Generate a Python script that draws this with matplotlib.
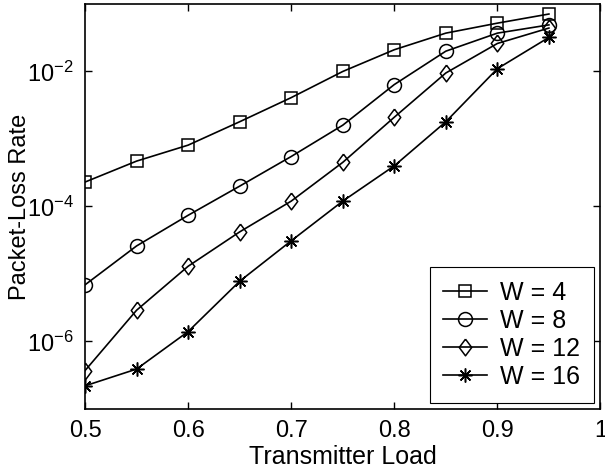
import matplotlib
matplotlib.use("Agg")
import matplotlib.pyplot as plt
import numpy as np
from matplotlib.ticker import NullLocator, FixedLocator

plt.rcParams['font.family'] = ['Liberation Sans', 'DejaVu Sans']
plt.rcParams['mathtext.fontset'] = 'custom'
plt.rcParams['mathtext.rm'] = 'Liberation Sans'

# data
load = [0.5, 0.55, 0.6, 0.65, 0.7, 0.75, 0.8, 0.85, 0.9, 0.95]
w4 = [2.3e-4, 4.7e-4, 8.1e-4, 1.8e-3, 4.1e-3, 1.0e-2, 2.1e-2, 3.7e-2, 5.2e-2, 7.1e-2]
w8 = [6.9e-6, 2.6e-5, 7.4e-5, 2.0e-4, 5.5e-4, 1.6e-3, 6.4e-3, 2.0e-2, 3.7e-2, 4.9e-2]
w12 = [3.7e-7, 2.9e-6, 1.3e-5, 4.2e-5, 1.2e-4, 4.5e-4, 2.1e-3, 9.5e-3, 2.6e-2, 4.4e-2]
w16 = [2.2e-7, 3.9e-7, 1.4e-6, 7.8e-6, 3.1e-5, 1.2e-4, 4.0e-4, 1.8e-3, 1.1e-2, 3.2e-2]
labels = ['W = 4', 'W = 8', 'W = 12', 'W = 16']
xticks = [0.5, 0.6, 0.7, 0.8, 0.9, 1.0]
xticklabels = ['0.5', '0.6', '0.7', '0.8', '0.9', '1']

# MATLAB-style tall diamond
diamond = [(0, 1), (0.75, 0), (0, -1), (-0.75, 0), (0, 1)]

fig = plt.figure(figsize=(6.05, 4.69), dpi=100)
ax = fig.add_axes([0.1405, 0.128, 0.852, 0.8635])

style = dict(color='black', lw=1.2, mfc='none', mew=1.1)
ax.plot(load, w4, marker='s', ms=8, label=labels[0], **style)
ax.plot(load, w8, marker='o', ms=10, label=labels[1], **style)
ax.plot(load, w12, marker=diamond, ms=12, label=labels[2], **style)
ax.plot(load, w16, marker=(8, 2, 0), ms=10, label=labels[3], **style)

ax.set_yscale('log')
ax.set_xlim(0.5, 1.0)
ax.set_ylim(1e-7, 1e-1)
ax.set_xticks(xticks)
ax.set_xticklabels(xticklabels)
ax.yaxis.set_major_locator(FixedLocator([1e-6, 1e-4, 1e-2]))
ax.yaxis.set_minor_locator(NullLocator())

ax.tick_params(direction='in', top=True, right=True, length=5, width=1,
               labelsize=17, pad=8)
for s in ax.spines.values():
    s.set_linewidth(1.2)

ax.set_xlabel('Transmitter Load', fontsize=18, labelpad=2)
ax.set_ylabel('Packet-Loss Rate', fontsize=17, labelpad=-3)

leg = ax.legend(loc='lower right', fontsize=18, handlelength=1.76,
                labelspacing=0.16, borderpad=0.55, handletextpad=0.52,
                fancybox=False, edgecolor='black', framealpha=1,
                borderaxespad=0.25)
leg.get_frame().set_linewidth(0.8)

fig.savefig('out.png', dpi=100)
